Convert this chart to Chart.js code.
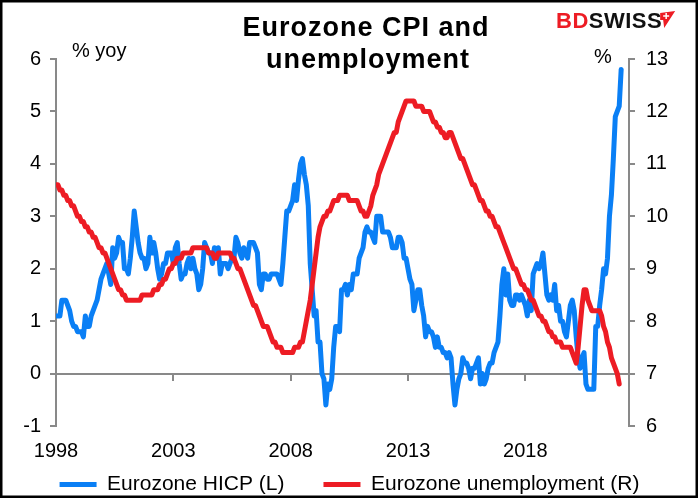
<!DOCTYPE html>
<html>
<head>
<meta charset="utf-8">
<script src="https://cdn.jsdelivr.net/npm/chart.js@4.4.1/dist/chart.umd.min.js"></script>
<style>
  html, body { margin: 0; padding: 0; background: #fff; }
  #wrap { width: 699px; height: 499px; }
</style>
</head>
<body>
<div id="wrap"><canvas id="c" width="699" height="499"></canvas></div>
<script>
// Month index 0 = Jan 1998
const yearTickLabels = ["1998", "2003", "2008", "2013", "2018"];
const yearTickMonths = [0, 60, 120, 180, 240];

// Eurozone HICP, % yoy (Jan 1998 .. Feb 2022)
const hicp = [
  1.1,1.1,1.1,1.4,1.4,1.4,1.3,1.2,1.0,0.9,0.9,0.8,
  0.8,0.8,0.7,1.1,0.9,0.9,1.1,1.2,1.3,1.4,1.6,1.8,
  1.9,2.0,2.1,1.9,1.7,2.4,2.2,2.3,2.6,2.5,2.5,2.0,
  2.0,1.9,2.2,2.6,3.1,2.8,2.5,2.3,2.2,2.2,2.0,2.1,
  2.6,2.3,2.5,2.3,2.0,1.8,1.9,2.1,2.1,2.3,2.3,2.3,
  2.1,2.4,2.5,2.1,1.8,1.9,1.9,2.1,2.2,2.0,2.2,2.0,
  1.9,1.6,1.7,2.0,2.5,2.4,2.3,2.3,2.1,2.4,2.2,2.4,
  1.9,2.1,2.1,2.1,2.0,2.1,2.2,2.2,2.6,2.5,2.3,2.2,
  2.4,2.3,2.2,2.5,2.5,2.5,2.4,2.3,1.7,1.6,1.9,1.9,
  1.8,1.8,1.9,1.9,1.9,1.9,1.8,1.7,2.1,2.6,3.1,3.1,
  3.2,3.3,3.6,3.3,3.7,4.0,4.1,3.8,3.6,3.2,2.1,1.6,
  1.1,1.2,0.6,0.6,0.0,-0.1,-0.6,-0.2,-0.3,-0.1,0.5,0.9,
  0.9,0.8,1.6,1.6,1.7,1.5,1.7,1.6,1.9,1.9,1.9,2.2,
  2.3,2.4,2.7,2.8,2.7,2.7,2.6,2.5,3.0,3.0,3.0,2.7,
  2.7,2.7,2.7,2.6,2.4,2.4,2.4,2.6,2.6,2.5,2.2,2.2,
  2.0,1.8,1.7,1.2,1.4,1.6,1.6,1.3,1.1,0.7,0.9,0.8,
  0.8,0.7,0.5,0.7,0.5,0.5,0.4,0.4,0.3,0.4,0.3,-0.2,
  -0.6,-0.3,-0.1,0.0,0.3,0.2,0.2,0.1,-0.1,0.1,0.1,0.2,
  0.3,-0.2,0.0,-0.2,-0.1,0.1,0.2,0.2,0.4,0.5,0.6,1.1,
  1.7,2.0,1.5,1.9,1.4,1.3,1.3,1.5,1.5,1.4,1.5,1.4,
  1.3,1.1,1.4,1.2,1.9,2.0,2.1,2.0,2.1,2.3,1.9,1.5,
  1.4,1.5,1.4,1.7,1.2,1.3,1.0,1.0,0.8,0.7,1.0,1.3,
  1.4,1.2,0.7,0.3,0.1,0.3,0.4,-0.2,-0.3,-0.3,-0.3,-0.3,
  0.9,0.9,1.3,1.6,2.0,1.9,2.2,3.0,3.4,4.1,4.9,5.0,
  5.1,5.8
];

// Eurozone unemployment rate, % (Jan 1998 .. Jan 2022)
const unemployment = [
  10.6,10.6,10.5,10.5,10.4,10.4,10.3,10.3,10.2,10.2,10.1,10.0,
  10.0,9.9,9.9,9.8,9.8,9.7,9.7,9.6,9.6,9.5,9.4,9.4,
  9.3,9.3,9.2,9.1,9.0,8.9,8.8,8.7,8.6,8.6,8.5,8.5,
  8.4,8.4,8.4,8.4,8.4,8.4,8.4,8.4,8.5,8.5,8.5,8.5,
  8.5,8.5,8.6,8.6,8.6,8.7,8.7,8.8,8.8,8.9,9.0,9.0,
  9.1,9.1,9.2,9.2,9.2,9.3,9.3,9.3,9.3,9.3,9.4,9.4,
  9.4,9.4,9.4,9.4,9.4,9.4,9.3,9.3,9.3,9.2,9.2,9.3,
  9.3,9.3,9.3,9.3,9.3,9.3,9.2,9.2,9.1,9.0,9.0,8.9,
  8.8,8.7,8.6,8.5,8.4,8.3,8.3,8.2,8.1,8.0,7.9,7.9,
  7.9,7.8,7.7,7.6,7.6,7.5,7.5,7.5,7.4,7.4,7.4,7.4,
  7.4,7.4,7.5,7.5,7.5,7.6,7.6,7.8,8.0,8.2,8.4,8.7,
  9.0,9.3,9.6,9.8,9.9,10.0,10.0,10.1,10.1,10.2,10.3,10.3,
  10.3,10.4,10.4,10.4,10.4,10.4,10.3,10.3,10.3,10.3,10.3,10.2,
  10.1,10.1,10.0,10.0,10.1,10.2,10.4,10.5,10.6,10.8,10.9,11.0,
  11.1,11.2,11.3,11.4,11.5,11.6,11.6,11.8,11.9,12.0,12.1,12.2,
  12.2,12.2,12.2,12.2,12.1,12.1,12.1,12.1,12.0,12.0,12.0,12.0,
  11.9,11.8,11.8,11.7,11.7,11.6,11.6,11.5,11.5,11.6,11.6,11.5,
  11.4,11.3,11.2,11.1,11.1,11.0,10.9,10.8,10.7,10.6,10.6,10.5,
  10.4,10.3,10.3,10.2,10.1,10.1,10.0,10.0,9.9,9.8,9.8,9.7,
  9.6,9.5,9.4,9.3,9.2,9.1,9.0,9.0,8.9,8.8,8.7,8.7,
  8.6,8.6,8.5,8.4,8.4,8.3,8.2,8.1,8.1,8.0,8.0,7.9,
  7.8,7.8,7.7,7.7,7.6,7.6,7.6,7.5,7.5,7.5,7.5,7.5,
  7.4,7.3,7.2,7.5,7.9,8.3,8.6,8.6,8.4,8.3,8.2,8.2,
  8.2,8.2,8.2,8.1,7.9,7.8,7.6,7.5,7.3,7.2,7.1,7.0,
  6.8
];

const seriesNames = ["Eurozone HICP (L)", "Eurozone unemployment (R)"];
const leftTicks = [-1, 6];
const rightTicks = [6, 13];

const BLUE = '#0a7ff5';
const RED = '#ed1c24';
const AXIS = '#898989';
const FONT = "'Liberation Sans', Arial, sans-serif";

const decor = {
  id: 'decor',
  afterLayout(chart) {
    const lg = chart.legend;
    if (lg) {
      const h = lg.bottom - lg.top;
      lg.top = 435;
      lg.bottom = 435 + h;
    }
    const x2 = chart.scales.x2;
    if (x2) {
      x2.bottom = x2.top + 45;
      x2.height = 45;
    }
  },
  afterDraw(chart) {
    const ctx = chart.ctx;
    ctx.save();
    ctx.fillStyle = '#000';
    ctx.textAlign = 'center';
    ctx.textBaseline = 'middle';
    ctx.font = "bold 27px " + FONT;
    ctx.letterSpacing = '1px';
    ctx.fillText('Eurozone CPI and', 366, 29);
    ctx.fillText('unemployment', 368, 61);
    ctx.letterSpacing = '0px';

    ctx.font = "20px " + FONT;
    ctx.textAlign = 'left';
    ctx.fillText('% yoy', 72, 51);
    ctx.fillText('%', 594, 57);

    // logo
    ctx.font = "bold 22px " + FONT;
    ctx.letterSpacing = '0.5px';
    ctx.textBaseline = 'alphabetic';
    ctx.fillStyle = RED;
    ctx.fillText('BD', 556, 28);
    const bdw = ctx.measureText('BD').width;
    ctx.fillStyle = '#111';
    ctx.fillText('SWISS', 556 + bdw, 28);
    const sw = ctx.measureText('SWISS').width;
    ctx.letterSpacing = '0px';
    const fx = 556 + bdw + sw - 1;
    ctx.fillStyle = RED;
    ctx.beginPath();
    ctx.moveTo(fx - 1, 13);
    ctx.lineTo(fx + 14, 11);
    ctx.lineTo(fx + 3, 28);
    ctx.lineTo(fx + 2, 20);
    ctx.lineTo(fx - 1, 20);
    ctx.closePath();
    ctx.fill();
    ctx.strokeStyle = '#fff';
    ctx.lineWidth = 1.5;
    ctx.beginPath();
    ctx.moveTo(fx + 5, 13); ctx.lineTo(fx + 5, 19);
    ctx.moveTo(fx + 2, 16); ctx.lineTo(fx + 8, 16);
    ctx.stroke();

    // frame
    ctx.strokeStyle = '#000';
    ctx.lineWidth = 2.5;
    ctx.strokeRect(1.25, 1.25, 695.5, 495.5);
    ctx.restore();
  }
};

new Chart(document.getElementById('c'), {
  type: 'line',
  data: {
    datasets: [
      {
        label: seriesNames[0],
        data: hicp.map((v, i) => ({ x: i, y: v })),
        borderColor: BLUE,
        backgroundColor: BLUE,
        borderWidth: 5,
        pointRadius: 0,
        tension: 0,
        borderJoinStyle: 'round',
        borderCapStyle: 'round',
        yAxisID: 'y',
        xAxisID: 'x',
        order: 2
      },
      {
        label: seriesNames[1],
        data: unemployment.map((v, i) => ({ x: i, y: v })),
        borderColor: RED,
        backgroundColor: RED,
        borderWidth: 5,
        pointRadius: 0,
        tension: 0,
        borderJoinStyle: 'round',
        borderCapStyle: 'round',
        yAxisID: 'y2',
        xAxisID: 'x',
        order: 1
      }
    ]
  },
  options: {
    responsive: false,
    animation: false,
    devicePixelRatio: 1,
    layout: { padding: { top: 59, left: 0, right: 0, bottom: 0 } },
    scales: {
      x: {
        type: 'linear',
        position: { y: 0 },
        min: 0,
        max: 293,
        afterBuildTicks(scale) { scale.ticks = yearTickMonths.map(v => ({ value: v })); },
        ticks: { display: false },
        grid: { drawOnChartArea: false, drawTicks: true, tickLength: 6, color: AXIS, lineWidth: 2 },
        border: { display: true, color: AXIS, width: 2 }
      },
      x2: {
        type: 'linear',
        position: 'bottom',
        min: 0,
        max: 293,
        afterBuildTicks(scale) { scale.ticks = yearTickMonths.map(v => ({ value: v })); },
        afterFit(scale) {
          const lg = scale.chart.legend;
          const lh = lg ? (lg.height || 0) : 0;
          scale.height = Math.max(499 - 426 - lh, 1);
        },
        ticks: {
          color: '#000',
          font: { size: 20, family: FONT },
          padding: 13,
          maxRotation: 0,
          autoSkip: false,
          callback: (v) => yearTickLabels[yearTickMonths.indexOf(v)]
        },
        grid: { display: false, drawTicks: false },
        border: { display: false }
      },
      y: {
        type: 'linear',
        position: 'left',
        min: leftTicks[0],
        max: leftTicks[1],
        afterFit(scale) { scale.width = 56; },
        ticks: { stepSize: 1, color: '#000', font: { size: 20, family: FONT }, padding: 9 },
        grid: { drawOnChartArea: false, tickLength: 6, color: AXIS, lineWidth: 2 },
        border: { display: true, color: AXIS, width: 2 }
      },
      y2: {
        type: 'linear',
        position: 'right',
        min: rightTicks[0],
        max: rightTicks[1],
        afterFit(scale) { scale.width = 70; },
        ticks: { stepSize: 1, color: '#000', font: { size: 20, family: FONT }, padding: 11 },
        grid: { drawOnChartArea: false, tickLength: 6, color: AXIS, lineWidth: 2 },
        border: { display: true, color: AXIS, width: 2 }
      }
    },
    plugins: {
      title: { display: false },
      tooltip: { enabled: false },
      legend: {
        display: true,
        position: 'bottom',
        labels: {
          color: '#000',
          font: { size: 21, family: FONT },
          boxWidth: 37,
          boxHeight: 5,
          padding: 39,
          sort: (a, b) => a.datasetIndex - b.datasetIndex,
          generateLabels(chart) {
            return Chart.defaults.plugins.legend.labels.generateLabels(chart).map(l => ({
              ...l, fillStyle: l.strokeStyle, lineWidth: 0
            }));
          }
        }
      }
    }
  },
  plugins: [decor]
});
</script>
</body>
</html>
